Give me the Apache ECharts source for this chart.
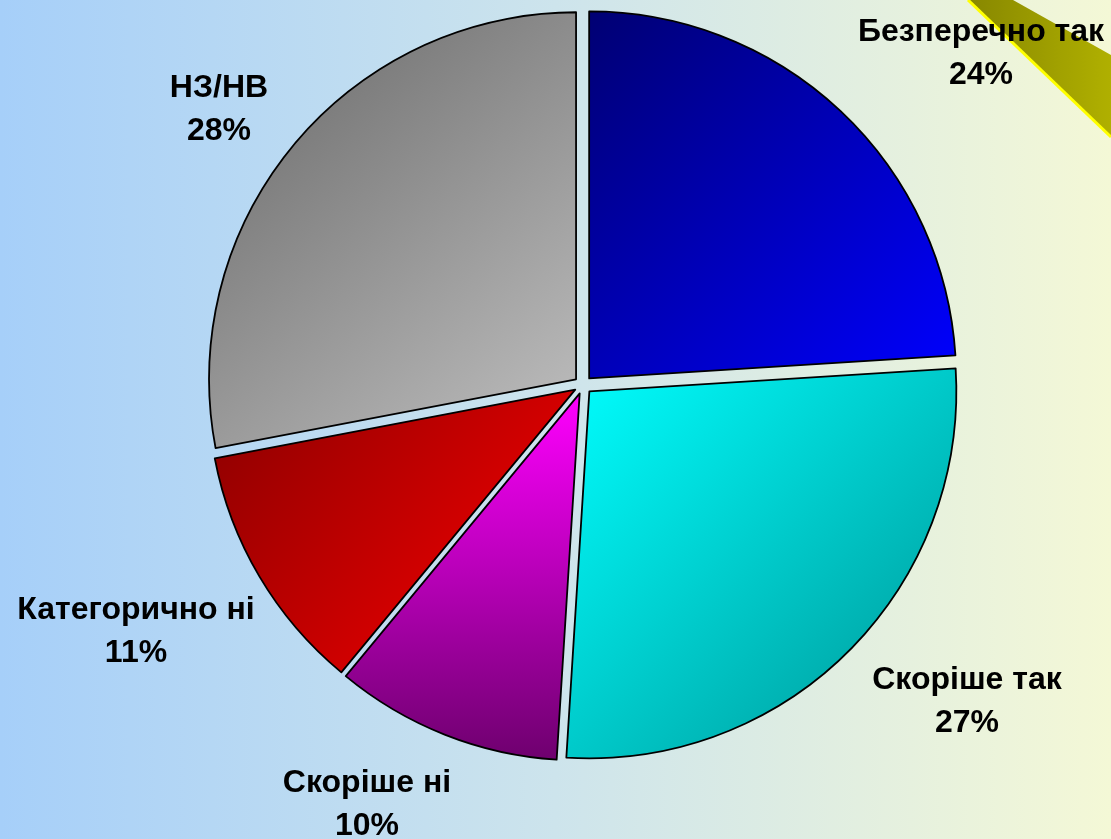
<!DOCTYPE html>
<html>
<head>
<meta charset="utf-8">
<script src="https://cdn.jsdelivr.net/npm/echarts@6/dist/echarts.min.js"></script>
<style>
  html, body { margin: 0; padding: 0; }
  #chart { width: 1111px; height: 839px; }
</style>
</head>
<body>
<div id="chart"></div>
<script>
// answers and their share, %
var categories = ['Безперечно так', 'Скоріше так', 'Скоріше ні', 'Категорично ні', 'НЗ/НВ'];
var values = [24, 27, 10, 11, 28];

// slice gradients: [start, end] colours and direction
var sliceColors = [
  ['#000072', '#0000ff', [0, 0, 1, 1]],
  ['#00ffff', '#009494', [0, 0, 1, 1]],
  ['#ff00ff', '#6e006e', [0, 0, 0, 1]],
  ['#8a0000', '#ff0000', [0, 0, 1, 1]],
  ['#666666', '#c0c0c0', [0, 0, 1, 1]]
];
// where the label boxes sit (centre, px)
var labelPos = [[981, 54], [967, 702], [367, 805], [136, 632], [219, 110]];

var chart = echarts.init(document.getElementById('chart'));

var total = values.reduce(function (a, b) { return a + b; }, 0);

var seriesData = categories.map(function (name, i) {
  var c = sliceColors[i];
  return {
    name: name,
    value: values[i],
    selected: true,
    itemStyle: {
      color: new echarts.graphic.LinearGradient(c[2][0], c[2][1], c[2][2], c[2][3], [
        { offset: 0, color: c[0] },
        { offset: 1, color: c[1] }
      ])
    }
  };
});

var labels = categories.map(function (name, i) {
  return {
    type: 'text',
    x: labelPos[i][0],
    y: labelPos[i][1],
    z: 10,
    style: {
      text: name + '\n' + Math.round(values[i] / total * 100) + '%',
      fontFamily: 'Liberation Sans, Arial, sans-serif',
      fontWeight: 'bold',
      fontSize: 32,
      lineHeight: 43,
      fill: '#000',
      align: 'center',
      verticalAlign: 'middle'
    }
  };
});

var option = {
  backgroundColor: new echarts.graphic.LinearGradient(0, 0, 1, 0, [
    { offset: 0, color: '#a6cff9' },
    { offset: 0.5, color: '#cde4ec' },
    { offset: 1, color: '#f4f8d6' }
  ]),
  animation: false,
  graphic: [
    {
      type: 'polygon',
      shape: { points: [[968, 0], [1013, 0], [1111, 55], [1111, 137]] },
      style: {
        fill: new echarts.graphic.LinearGradient(0, 0, 1, 0, [
          { offset: 0, color: '#878700' },
          { offset: 1, color: '#b0b000' }
        ])
      },
      z: 0
    },
    {
      type: 'polyline',
      shape: { points: [[968, 0], [1111, 137]] },
      style: { stroke: '#ffff00', lineWidth: 3 },
      z: 0
    }
  ].concat(labels),
  series: [{
    type: 'pie',
    center: [583, 385],
    radius: 367,
    startAngle: 90,
    clockwise: true,
    selectedMode: 'multiple',
    selectedOffset: 9,
    silent: true,
    itemStyle: { borderColor: '#000', borderWidth: 1.8 },
    label: { show: false },
    labelLine: { show: false },
    data: seriesData
  }]
};

chart.setOption(option);
</script>
</body>
</html>
